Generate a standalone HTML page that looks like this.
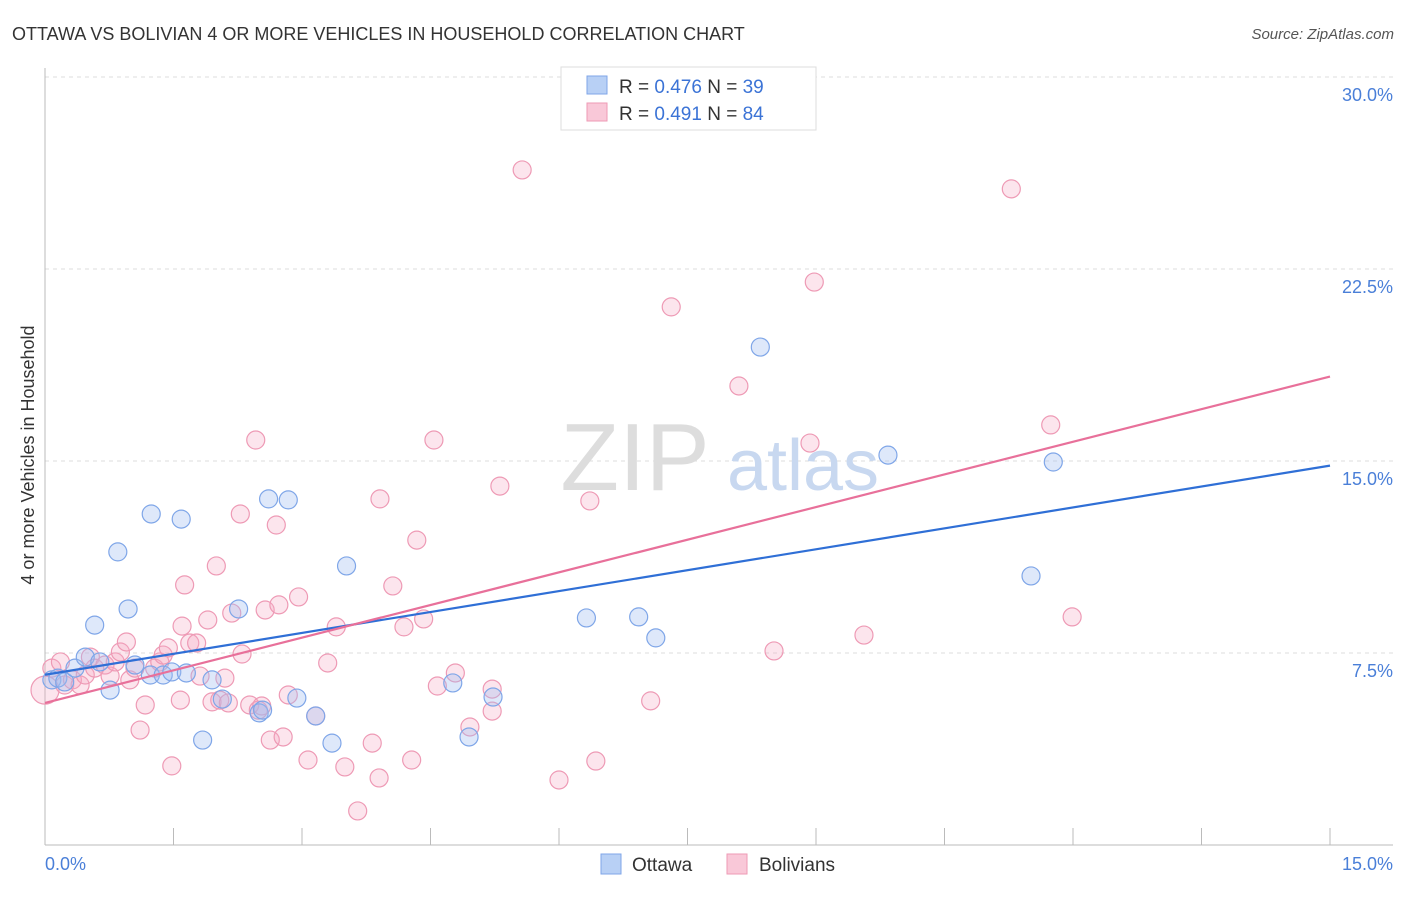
<!DOCTYPE html>
<html><head><meta charset="utf-8"><style>
body{margin:0;background:#fff;font-family:"Liberation Sans",sans-serif;}
svg text{font-family:"Liberation Sans",sans-serif;}
</style></head><body>
<svg id="chart" width="1406" height="892" xmlns="http://www.w3.org/2000/svg">
<text x="12" y="40" font-size="18" fill="#333">OTTAWA VS BOLIVIAN 4 OR MORE VEHICLES IN HOUSEHOLD CORRELATION CHART</text>
<text x="1394" y="39" font-size="15" fill="#555" text-anchor="end" font-style="italic">Source: ZipAtlas.com</text>
<g id="grid"></g>
<g>
<text x="635" y="490" font-size="96" fill="#ddd" text-anchor="middle" font-family="Liberation Serif">ZIP</text>
<text x="803" y="490" font-size="72" fill="#c8d8f0" text-anchor="middle">atlas</text>
</g>
<line x1="45" y1="68" x2="45" y2="845" stroke="#bbb"/>
<line x1="45" y1="845" x2="1393" y2="845" stroke="#bbb"/>
<g id="xticks"></g>
<g id="pts"></g>
<g id="lines"></g>
<text transform="translate(34,455) rotate(-90)" font-size="18" fill="#333" text-anchor="middle">4 or more Vehicles in Household</text>
<text x="45" y="870" font-size="18" fill="#4a7fd8">0.0%</text>
<text x="1393" y="870" font-size="18" fill="#4a7fd8" text-anchor="end">15.0%</text>
<g>
<rect x="561" y="67" width="255" height="63" fill="#fff" stroke="#ddd"/>
<rect x="587" y="76" width="20" height="18" fill="#b8d0f5" stroke="#7fa6e8"/>
<rect x="587" y="103" width="20" height="18" fill="#f9c8d8" stroke="#ee9ab5"/>
<text x="619" y="93" font-size="19" fill="#333">R = <tspan fill="#3b73d6">0.476</tspan>   N = <tspan fill="#3b73d6">39</tspan></text>
<text x="619" y="120" font-size="19" fill="#333">R = <tspan fill="#3b73d6">0.491</tspan>   N = <tspan fill="#3b73d6">84</tspan></text>
</g>
<g>
<rect x="601" y="854" width="20" height="20" fill="#b8d0f5" stroke="#7fa6e8"/>
<text x="632" y="871" font-size="19" fill="#333">Ottawa</text>
<rect x="727" y="854" width="20" height="20" fill="#f9c8d8" stroke="#ee9ab5"/>
<text x="759" y="871" font-size="19" fill="#333">Bolivians</text>
</g>
</svg>
<script>
const yTicks=[7.5,15,22.5,30];
const yTickLabels=["7.5%","15.0%","22.5%","30.0%"];
const xTicks=[0,1.5,3,4.5,6,7.5,9,10.5,12,13.5,15];
const blueX=[0.08,0.15,0.23,0.35,0.47,0.64,0.58,0.76,0.85,0.97,1.05,1.23,1.24,1.38,1.48,1.59,1.65,1.84,1.95,2.07,2.26,2.50,2.54,2.61,2.84,2.94,3.16,3.35,3.52,4.76,4.95,5.23,6.32,6.93,7.13,8.35,9.84,11.51,11.77];
const blueY=[6.45,6.52,6.37,6.91,7.34,7.15,8.59,6.05,11.45,9.22,7.03,6.64,12.93,6.64,6.76,12.73,6.72,4.10,6.45,5.70,9.22,5.16,5.27,13.52,13.48,5.74,5.04,3.98,10.90,6.33,4.22,5.78,8.87,8.91,8.09,19.45,15.23,10.51,14.96];
const pinkX=[0,0.08,0.18,0.23,0.32,0.41,0.47,0.53,0.58,0.70,0.76,0.82,0.88,0.95,0.99,1.05,1.11,1.17,1.28,1.34,1.38,1.44,1.48,1.58,1.60,1.63,1.69,1.77,1.81,1.90,1.95,2.00,2.04,2.10,2.14,2.18,2.28,2.30,2.39,2.46,2.49,2.53,2.57,2.63,2.70,2.73,2.78,2.84,2.96,3.07,3.16,3.30,3.40,3.50,3.65,3.82,3.90,3.91,4.06,4.19,4.28,4.34,4.42,4.54,4.58,4.79,4.96,5.22,5.22,5.31,5.57,6.00,6.36,6.43,7.07,7.31,8.10,8.51,8.93,8.98,9.56,11.28,11.74,11.99];
const pinkY=[6.05,6.91,7.15,6.25,6.45,6.25,6.64,7.34,6.91,7.03,6.60,7.15,7.54,7.93,6.45,6.91,4.49,5.47,6.91,7.15,7.42,7.70,3.09,5.66,8.55,10.16,7.89,7.89,6.60,8.79,5.59,10.90,5.66,6.52,5.55,9.06,12.93,7.46,5.47,15.82,5.27,5.43,9.18,4.10,12.50,9.38,4.22,5.86,9.69,3.32,5.04,7.11,8.52,3.05,1.33,3.98,2.62,13.52,10.12,8.52,3.32,11.91,8.83,15.82,6.21,6.72,4.61,6.09,5.23,14.02,26.37,2.54,13.44,3.28,5.63,21.02,17.93,7.58,15.70,21.99,8.20,25.63,16.41,8.91];
const blueLine=[6.65,14.82];
const pinkLine=[5.55,18.3];
const xs=v=>45+v*(1285/15);
const ys=v=>845-v*25.6;
const NS="http://www.w3.org/2000/svg";
function mk(t,a,p){const e=document.createElementNS(NS,t);for(const k in a)e.setAttribute(k,a[k]);p.appendChild(e);return e;}
const grid=document.getElementById('grid');
yTicks.forEach((t,i)=>{
 const l=mk('line',{x1:45,x2:1393,y1:ys(t),y2:ys(t),stroke:'#ddd','stroke-dasharray':'4,4'},grid);
 
 
 const tx=mk('text',{x:1393,y:ys(t)+24,'font-size':18,fill:'#4a7fd8','text-anchor':'end'},grid);
 tx.textContent=yTickLabels[i];
 
 
});
const xt=document.getElementById('xticks');
xTicks.forEach(t=>{
 const l=mk('line',{x1:xs(t),x2:xs(t),y1:828,y2:845,stroke:'#bbb'},xt);
 
 
});
const pts=document.getElementById('pts');
pinkX.forEach((x,i)=>{
 const c=mk('circle',{cx:xs(x),cy:ys(pinkY[i]),r:i===0?14:9,fill:'rgba(245,170,195,0.3)',stroke:'#ee9ab5','stroke-width':1.2},pts);
 
 
});
blueX.forEach((x,i)=>{
 const c=mk('circle',{cx:xs(x),cy:ys(blueY[i]),r:9,fill:'rgba(160,190,240,0.35)',stroke:'#7fa6e8','stroke-width':1.2},pts);
 
 
});
const ln=document.getElementById('lines');
const b=mk('line',{x1:xs(0),y1:ys(blueLine[0]),x2:xs(15),y2:ys(blueLine[1]),stroke:'#2f6fd6','stroke-width':2.2},ln);


const p=mk('line',{x1:xs(0),y1:ys(pinkLine[0]),x2:xs(15),y2:ys(pinkLine[1]),stroke:'#e8709a','stroke-width':2.2},ln);


</script>
</body></html>
